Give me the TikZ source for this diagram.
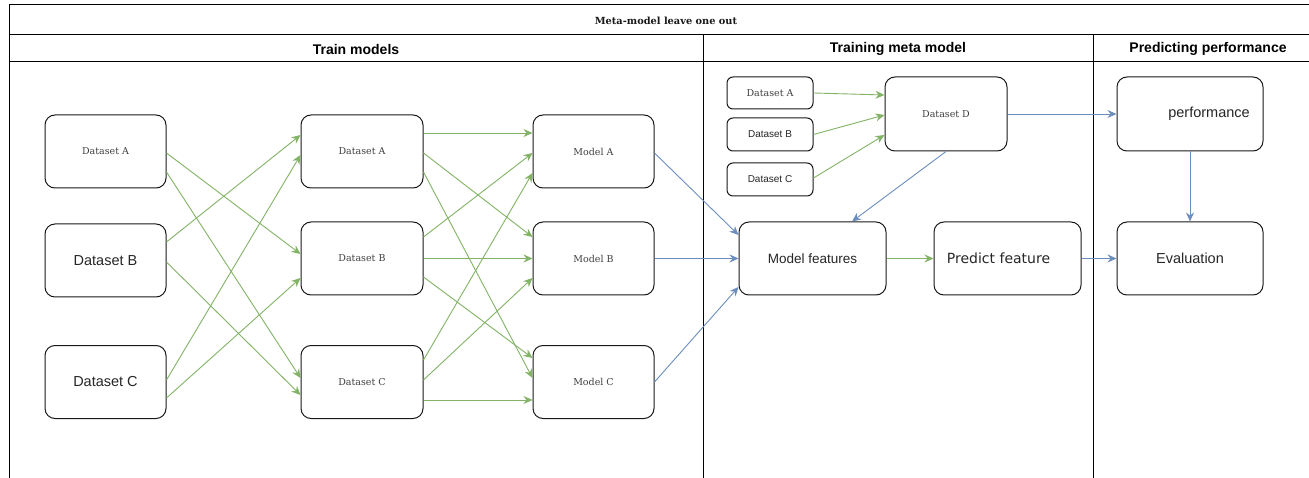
\documentclass[tikz,border=0pt]{standalone}
\usepackage{fontspec}
\newfontfamily\arialf{Liberation Sans}
\newfontfamily\dejaf{DejaVu Sans}
\newfontfamily\dserif{DejaVu Serif}
\usetikzlibrary{arrows.meta}
\definecolor{gr}{HTML}{82B366}
\definecolor{bl}{HTML}{6C8EBF}
\begin{document}
\begin{tikzpicture}[x=1pt,y=-1pt,
  box/.style={draw=black!90, line width=1pt, rounded corners=10pt,
    minimum width=121pt, minimum height=73pt, inner sep=0pt, anchor=center,
    font=\dserif\fontsize{9.5}{12}\selectfont, text=black!75},
  sbox/.style={box, rounded corners=6pt, minimum width=86pt, minimum height=33pt},
  bigtxt/.style={font=\arialf\fontsize{14.5}{16}\selectfont, text=black!85},
  smalltxt/.style={font=\arialf\fontsize{10}{12}\selectfont, text=black!85},
  frame/.style={draw=black, line width=1pt},
  hdr/.style={font=\arialf\bfseries\fontsize{14}{16}\selectfont, inner sep=0pt},
  tip/.style={-{Stealth[length=9pt,width=8pt,inset=3pt]}},
  garrow/.style={draw=gr, line width=0.9pt, tip},
  barrow/.style={draw=bl, line width=0.9pt, tip}]
\useasboundingbox (0,0) rectangle (1309,478);
\fill[white] (0,0) rectangle (1309,478);
% frame
\draw[frame] (1309,5) -- (9,5) -- (9,478);
\draw[frame] (9,35) -- (1309,35);
\draw[frame] (9,61.5) -- (1309,61.5);
\draw[frame] (703,35) -- (703,478);
\draw[frame] (1093,35) -- (1093,478);
\node[font=\dserif\bfseries\fontsize{9.8}{12}\selectfont, inner sep=0pt, text=black!90] (title) at (666,21) {Meta-model leave one out};
\node[hdr] (h1) at (356,49) {Train models};
\node[hdr] (h2) at (898,49) {Training meta model};
\node[hdr] (h3) at (1208,49) {Predicting performance};
% left column
\node[box] (la) at (105.5,151.5) {Dataset A};
\node[box, bigtxt] (lb) at (105.5,260.5) {Dataset B};
\node[box, bigtxt] (lc) at (105.5,382) {Dataset C};
% middle column
\node[box, minimum width=122pt] (ma) at (362,151.5) {Dataset A};
\node[box, minimum width=122pt] (mb) at (362,258.5) {Dataset B};
\node[box, minimum width=122pt] (mc) at (362,382) {Dataset C};
% model column
\node[box] (mda) at (593.5,151.5) {Model A};
\node[box] (mdb) at (593.5,258.5) {Model B};
\node[box] (mdc) at (593.5,382) {Model C};
% meta section
\node[sbox, minimum height=32pt] (sa) at (770,93) {Dataset A};
\node[sbox, smalltxt] (sb) at (770,134.5) {\raisebox{-3pt}{Dataset B}};
\node[sbox, smalltxt] (sc) at (770,179.5) {\raisebox{-3pt}{Dataset C}};
\node[box, minimum width=122pt, minimum height=74pt] (dd) at (946,114) {Dataset D};
\node[box, minimum width=147pt, font=\arialf\fontsize{13.5}{16}\selectfont, text=black!85] (mf) at (812.5,258.5) {Model features};
\node[box, minimum width=147pt, font=\dejaf\fontsize{14}{16}\selectfont, text=black!85] (pf) at (1007.5,258.5) {Predict feature\hspace*{18pt}};
% predicting
\node[box, minimum width=146pt, minimum height=74pt, font=\arialf\fontsize{14.5}{16}\selectfont, text=black!85] (perf) at (1190,114) {\hspace*{38pt}performance};
\node[box, minimum width=146pt, bigtxt] (ev) at (1190,258.5) {Evaluation};
% left -> middle
\draw[garrow] ([yshift=-1.5pt]la.east) -- ([yshift=4.5pt]mb.west);
\draw[garrow] ([yshift=-20.5pt]la.east) -- ([yshift=4pt]mc.west);
\draw[garrow] ([yshift=18.5pt]lb.east) -- ([yshift=16.5pt]ma.west);
\draw[garrow] ([yshift=-1.5pt]lb.east) -- ([yshift=-13pt]mc.west);
\draw[garrow] ([yshift=2pt]lc.east) -- ([yshift=-3.5pt]ma.west);
\draw[garrow] ([yshift=-16pt]lc.east) -- ([yshift=-19.5pt]mb.west);
% middle -> models
\draw[garrow] ([yshift=18.5pt]ma.east) -- ([yshift=18.5pt]mda.west);
\draw[garrow] ([yshift=-1.5pt]ma.east) -- ([yshift=21.5pt]mdb.west);
\draw[garrow] ([yshift=-20.5pt]ma.east) -- ([yshift=4pt]mdc.west);
\draw[garrow] ([yshift=21.5pt]mb.east) -- ([yshift=-1.5pt]mda.west);
\draw[garrow] (mb.east) -- (mdb.west);
\draw[garrow] ([yshift=-18.5pt]mb.east) -- ([yshift=24pt]mdc.west);
\draw[garrow] ([yshift=22pt]mc.east) -- ([yshift=-21.5pt]mda.west);
\draw[garrow] ([yshift=2pt]mc.east) -- ([yshift=-19.5pt]mdb.west);
\draw[garrow] ([yshift=-18pt]mc.east) -- ([yshift=-18pt]mdc.west);
% models -> model features
\draw[barrow] ([yshift=-1.5pt]mda.east) -- ([yshift=23.5pt]mf.west);
\draw[barrow] (mdb.east) -- (mf.west);
\draw[barrow] (mdc.east) -- ([yshift=-28.5pt]mf.west);
% meta
\draw[garrow] (sa.east) -- ([yshift=19pt]dd.west);
\draw[garrow] (sb.east) -- ([yshift=-1pt]dd.west);
\draw[garrow] ([yshift=1.5pt]sc.east) -- ([yshift=-21pt]dd.west);
\draw[barrow] (dd.south) -- ([xshift=39.5pt]mf.north);
\draw[barrow] (dd.east) -- (perf.west);
\draw[garrow] (mf.east) -- (pf.west);
\draw[barrow] (pf.east) -- (ev.west);
\draw[barrow] (perf.south) -- (ev.north);
\end{tikzpicture}
\end{document}
